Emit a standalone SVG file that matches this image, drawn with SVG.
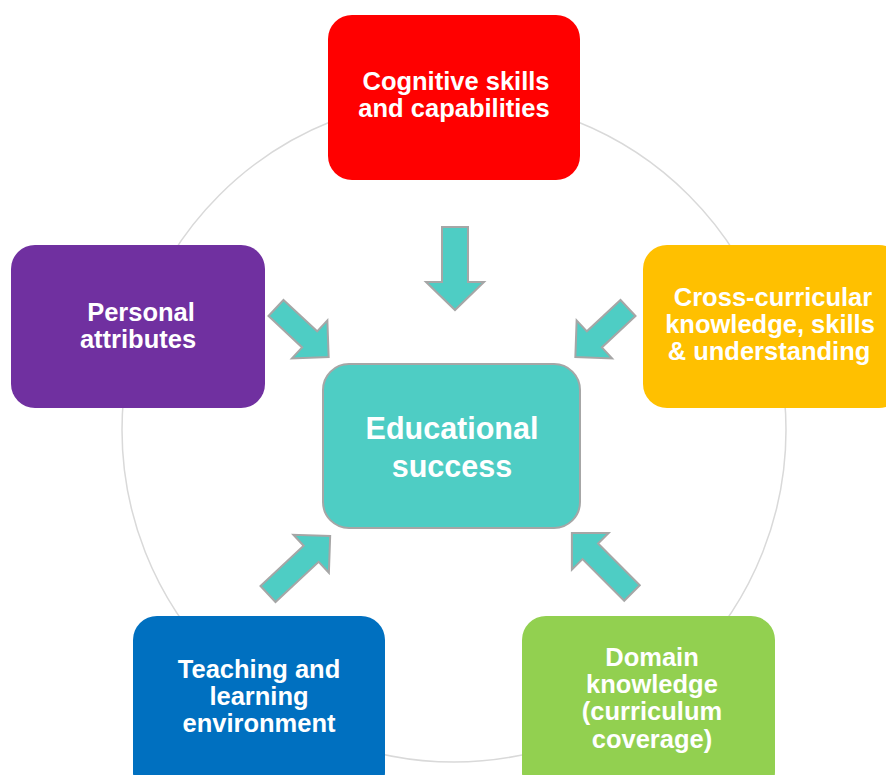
<svg xmlns="http://www.w3.org/2000/svg" width="886" height="775" viewBox="0 0 886 775">
<style>
.t{font-family:"Liberation Sans",Arial,sans-serif;font-weight:bold;fill:#fff;text-anchor:middle;font-size:25.5px}
.c{font-size:30.5px}
.arr{fill:#4ECDC4;stroke:#a6a6a6;stroke-width:2;stroke-linejoin:miter}
</style>
<rect width="886" height="775" fill="#fff"/>
<circle cx="454" cy="430" r="332" fill="none" stroke="#d9d9d9" stroke-width="1.5"/>
<g id="connectors">
<path class="arr" transform="translate(455,227) rotate(90)" d="M0,-13 H55 V-29 L83,0 L55,29 V13 H0 Z"/>
<path class="arr" transform="translate(276,308) rotate(43)" d="M0,-11 H46 V-26 L72,0 L46,26 V11 H0 Z"/>
<path class="arr" transform="translate(628,308) rotate(137)" d="M0,-11 H46 V-26 L72,0 L46,26 V11 H0 Z"/>
<path class="arr" transform="translate(268,594) rotate(-43)" d="M0,-11 H59 V-26 L85,0 L59,26 V11 H0 Z"/>
<path class="arr" transform="translate(632,593) rotate(-135)" d="M0,-11 H59 V-26 L85,0 L59,26 V11 H0 Z"/>
</g>
<g id="cognitive">
<rect x="328" y="15" width="252" height="165" rx="24" fill="#ff0000"/>
<text class="t" x="456" y="90">Cognitive skills</text>
<text class="t" x="454" y="117">and capabilities</text>
</g>
<g id="personal">
<rect x="11" y="245" width="254" height="163" rx="24" fill="#7030a0"/>
<text class="t" x="141" y="321">Personal</text>
<text class="t" x="138" y="348">attributes</text>
</g>
<g id="crosscurricular">
<rect x="643" y="245" width="260" height="163" rx="24" fill="#ffc000"/>
<text class="t" x="773" y="306">Cross-curricular</text>
<text class="t" x="770" y="333">knowledge, skills</text>
<text class="t" x="769" y="360">&amp; understanding</text>
</g>
<g id="center">
<rect x="323" y="364" width="257" height="164" rx="26" fill="#4ECDC4" stroke="#a6a6a6" stroke-width="2"/>
<text class="t c" x="452" y="439">Educational</text>
<text class="t c" x="452" y="477">success</text>
</g>
<g id="teaching">
<rect x="133" y="616" width="252" height="180" rx="24" fill="#0070c0"/>
<text class="t" x="259" y="678">Teaching and</text>
<text class="t" x="259" y="705">learning</text>
<text class="t" x="259" y="732">environment</text>
</g>
<g id="domain">
<rect x="522" y="616" width="253" height="180" rx="24" fill="#92d050"/>
<text class="t" x="652" y="666">Domain</text>
<text class="t" x="652" y="693">knowledge</text>
<text class="t" x="652" y="720">(curriculum</text>
<text class="t" x="652" y="748">coverage)</text>
</g>
</svg>
